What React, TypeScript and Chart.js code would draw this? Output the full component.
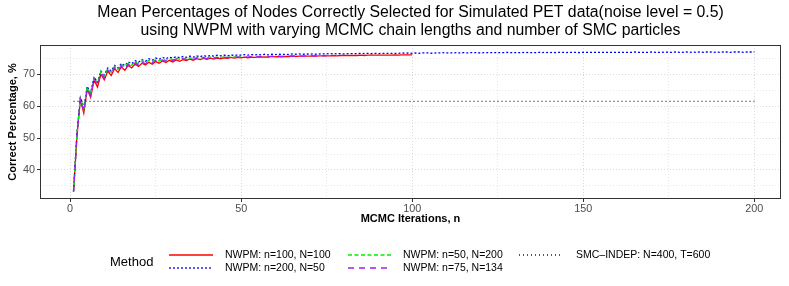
import React, { useEffect, useRef } from "react";
import { Chart, registerables } from "chart.js";

Chart.register(...registerables);

const titleLines = [
  "Mean Percentages of Nodes Correctly Selected for Simulated PET data(noise level = 0.5)",
  "using NWPM with varying MCMC chain lengths and number of SMC particles",
];
const xAxisTitle = "MCMC Iterations, n";
const yAxisTitle = "Correct Percentage, %";
const legendTitle = "Method";

const xTickValues = [0, 25, 50, 75, 100, 125, 150, 175, 200];
const xTickLabelsShown = [0, 50, 100, 150, 200];
const yTickValues = [35, 40, 45, 50, 55, 60, 65, 70, 75];
const yTickLabelsShown = [40, 50, 60, 70];

const seriesNames = [
  "NWPM: n=100, N=100",
  "NWPM: n=200, N=50",
  "NWPM: n=50, N=200",
  "NWPM: n=75, N=134",
  "SMC\u2013INDEP: N=400, T=600",
];

// NWPM n=100, N=100 (iterations 1..100)
const redValues = [
  33.2, 50.5, 62.0, 57.8, 65.3, 62.8, 68.2, 66.0, 70.0, 68.3,
  71.0, 69.6, 71.8, 70.6, 72.3, 71.3, 72.8, 72.0, 73.2, 72.5,
  73.5, 72.9, 73.8, 73.2, 74.0, 73.5, 74.2, 73.7, 74.4, 73.9,
  74.5, 74.1, 74.6, 74.3, 74.8, 74.4, 74.9, 74.6, 75.0, 74.7,
  75.1, 74.8, 75.1, 74.9, 75.2, 75.0, 75.3, 75.1, 75.3, 75.2,
  75.4, 75.2, 75.4, 75.3, 75.5, 75.4, 75.5, 75.4, 75.6, 75.5,
  75.6, 75.5, 75.6, 75.6, 75.7, 75.6, 75.7, 75.7, 75.7, 75.7,
  75.8, 75.7, 75.8, 75.8, 75.8, 75.8, 75.9, 75.8, 75.9, 75.9,
  75.9, 75.9, 75.9, 75.9, 76.0, 75.9, 76.0, 76.0, 76.0, 76.0,
  76.0, 76.0, 76.0, 76.0, 76.1, 76.0, 76.1, 76.1, 76.1, 76.1,
];

// NWPM n=200, N=50 (iterations 1..200)
const blueValues = [
  33.4, 51.5, 62.8, 59.5, 66.2, 64.2, 69.2, 67.5, 71.0, 69.8,
  72.0, 71.0, 72.8, 72.0, 73.4, 72.7, 73.9, 73.3, 74.3, 73.8,
  74.6, 74.1, 74.9, 74.4, 75.1, 74.7, 75.3, 74.9, 75.4, 75.1,
  75.5, 75.2, 75.6, 75.3, 75.7, 75.4, 75.8, 75.5, 75.9, 75.6,
  75.9, 75.7, 76.0, 75.8, 76.0, 75.8, 76.1, 75.9, 76.1, 76.0,
  76.2, 76.0, 76.2, 76.1, 76.2, 76.1, 76.3, 76.1, 76.3, 76.2,
  76.3, 76.2, 76.3, 76.2, 76.4, 76.3, 76.4, 76.3, 76.4, 76.3,
  76.4, 76.3, 76.4, 76.4, 76.5, 76.4, 76.5, 76.4, 76.5, 76.4,
  76.5, 76.5, 76.5, 76.5, 76.6, 76.5, 76.6, 76.5, 76.6, 76.5,
  76.6, 76.6, 76.6, 76.6, 76.6, 76.6, 76.7, 76.6, 76.7, 76.6,
  76.7, 76.6, 76.7, 76.7, 76.7, 76.6, 76.7, 76.7, 76.8, 76.7,
  76.7, 76.7, 76.8, 76.7, 76.8, 76.7, 76.8, 76.8, 76.8, 76.7,
  76.8, 76.8, 76.8, 76.8, 76.8, 76.8, 76.8, 76.9, 76.8, 76.8,
  76.8, 76.8, 76.9, 76.8, 76.8, 76.8, 76.9, 76.8, 76.9, 76.8,
  76.9, 76.8, 76.9, 76.9, 76.8, 76.9, 76.9, 76.9, 76.8, 76.9,
  76.9, 76.9, 76.9, 76.9, 76.9, 76.9, 76.9, 76.9, 76.9, 76.9,
  76.9, 76.9, 76.9, 76.9, 77.0, 76.9, 76.9, 76.9, 76.9, 77.0,
  76.9, 76.9, 76.9, 77.0, 76.9, 76.9, 77.0, 76.9, 76.9, 77.0,
  76.9, 77.0, 76.9, 77.0, 76.9, 77.0, 77.0, 76.9, 77.0, 76.9,
  77.0, 77.0, 76.9, 77.0, 77.0, 77.0, 76.9, 77.0, 77.0, 77.0,
];

// NWPM n=50, N=200 (iterations 1..50)
const greenValues = [
  33.3, 51.0, 62.6, 59.0, 66.0, 63.8, 69.0, 67.2, 70.9, 69.4,
  71.8, 70.6, 72.5, 71.6, 73.1, 72.3, 73.5, 72.8, 73.9, 73.3,
  74.2, 73.7, 74.4, 74.0, 74.6, 74.2, 74.8, 74.4, 74.9, 74.6,
  75.0, 74.7, 75.1, 74.8, 75.2, 74.9, 75.3, 75.0, 75.3, 75.1,
  75.4, 75.2, 75.4, 75.3, 75.5, 75.3, 75.5, 75.4, 75.6, 75.5,
];

// NWPM n=75, N=134 (iterations 1..75)
const purpleValues = [
  33.2, 50.8, 62.3, 58.4, 65.6, 63.3, 68.6, 66.6, 70.5, 68.9,
  71.4, 70.1, 72.2, 71.1, 72.7, 71.8, 73.2, 72.4, 73.6, 72.9,
  73.9, 73.3, 74.1, 73.6, 74.3, 73.9, 74.5, 74.1, 74.7, 74.3,
  74.8, 74.5, 74.9, 74.6, 75.0, 74.7, 75.1, 74.8, 75.2, 74.9,
  75.2, 75.0, 75.3, 75.1, 75.4, 75.2, 75.4, 75.3, 75.5, 75.3,
  75.5, 75.4, 75.6, 75.4, 75.6, 75.5, 75.6, 75.5, 75.7, 75.6,
  75.7, 75.6, 75.7, 75.7, 75.8, 75.7, 75.8, 75.7, 75.8, 75.8,
  75.8, 75.8, 75.9, 75.8, 75.9,
];

// SMC-INDEP N=400, T=600 (constant over iterations 1..200)
const smcIterations = [1, 200];
const smcValues = [61.5, 61.5];

const FONT = "'Liberation Sans', Arial, Helvetica, sans-serif";

const toPoints = (vals: number[], iters?: number[]) =>
  vals.map((v, i) => ({ x: iters ? iters[i] : i + 1, y: v }));

const styles = [
  { color: "#FF0000", dash: [] as number[] },
  { color: "#0000FF", dash: [2, 2] },
  { color: "#00EE00", dash: [4, 2.5] },
  { color: "#A020F0", dash: [6, 5] },
  { color: "#222222", dash: [1, 3] },
];

export default function App() {
  const ref = useRef<HTMLCanvasElement | null>(null);

  useEffect(() => {
    document.body.style.margin = "0";
    const canvas = ref.current;
    if (!canvas) return;

    const overlay = {
      id: "overlay",
      beforeDraw(chart: any) {
        const ctx = chart.ctx;
        ctx.save();
        ctx.fillStyle = "#FFFFFF";
        ctx.fillRect(0, 0, chart.width, chart.height);
        ctx.restore();
      },
      afterDatasetsDraw(chart: any) {
        const ctx = chart.ctx;
        const a = chart.chartArea;
        ctx.save();
        // panel border
        ctx.strokeStyle = "#333333";
        ctx.lineWidth = 1;
        ctx.setLineDash([]);
        ctx.strokeRect(a.left + 0.5, a.top + 0.5, a.right - a.left - 1, a.bottom - a.top - 1);

        const cx = (a.left + a.right) / 2;
        // title
        ctx.fillStyle = "#000000";
        ctx.textAlign = "center";
        ctx.textBaseline = "middle";
        ctx.font = `15.8px ${FONT}`;
        ctx.fillText(titleLines[0], cx, 13);
        ctx.fillText(titleLines[1], cx, 31);

        // axis titles
        ctx.font = `bold 11px ${FONT}`;
        ctx.fillText(xAxisTitle, cx, 219);
        ctx.save();
        ctx.translate(13, (a.top + a.bottom) / 2);
        ctx.rotate(-Math.PI / 2);
        ctx.fillText(yAxisTitle, 0, 0);
        ctx.restore();

        // legend
        ctx.textAlign = "left";
        ctx.font = `13px ${FONT}`;
        ctx.fillText(legendTitle, 110, 262);
        const cols = [
          { lx: 169, lw: 44, tx: 225 },
          { lx: 348, lw: 44, tx: 403 },
          { lx: 519, lw: 41, tx: 576 },
        ];
        const rows = [255, 268];
        ctx.font = `10.5px ${FONT}`;
        seriesNames.forEach((name, i) => {
          const col = cols[Math.floor(i / 2)];
          const y = rows[i % 2];
          ctx.strokeStyle = styles[i].color;
          ctx.lineWidth = 1.3;
          ctx.setLineDash(styles[i].dash);
          ctx.beginPath();
          ctx.moveTo(col.lx, y);
          ctx.lineTo(col.lx + col.lw, y);
          ctx.stroke();
          ctx.setLineDash([]);
          ctx.fillStyle = "#000000";
          ctx.fillText(name, col.tx, y);
        });
        ctx.restore();
      },
    };

    const allValues = [redValues, blueValues, greenValues, purpleValues];
    const datasets: any[] = allValues.map((vals, i) => ({
      label: seriesNames[i],
      data: toPoints(vals),
      borderColor: styles[i].color,
      borderDash: styles[i].dash,
      borderWidth: 1.3,
      pointRadius: 0,
      fill: false,
      tension: 0,
      order: 5 - i,
    }));
    datasets.push({
      label: seriesNames[4],
      data: toPoints(smcValues, smcIterations),
      borderColor: styles[4].color,
      borderDash: styles[4].dash,
      borderWidth: 1.2,
      pointRadius: 0,
      fill: false,
      order: 1,
    });

    const gridColor = (ctx: any, majors: number[]) =>
      majors.includes(ctx.tick?.value) ? "#D9D9D9" : "#E6E6E6";

    const chart = new Chart(canvas, {
      type: "line",
      data: { datasets },
      plugins: [overlay],
      options: {
        animation: false,
        responsive: false,
        devicePixelRatio: 1,
        layout: { padding: { left: 0, right: 8, top: 45, bottom: 0 } },
        plugins: { legend: { display: false }, title: { display: false }, tooltip: { enabled: false } },
        scales: {
          x: {
            type: "linear",
            min: -8.8,
            max: 207.8,
            afterFit: (s: any) => { s.height = 87; },
            afterBuildTicks: (s: any) => { s.ticks = xTickValues.map((v) => ({ value: v })); },
            ticks: {
              autoSkip: false,
              maxRotation: 0,
              padding: 1,
              color: "#4D4D4D",
              font: { family: FONT, size: 10.8 },
              callback: (v: any) => (xTickLabelsShown.includes(v) ? String(v) : ""),
            },
            grid: {
              color: (c: any) => gridColor(c, [0, 50, 100, 150, 200]),
              lineWidth: 1,
              tickLength: 3,
              tickColor: (c: any) => (xTickLabelsShown.includes(c.tick?.value) ? "#333333" : "rgba(0,0,0,0)"),
              tickBorderDash: [],
            },
            border: { display: false, dash: [1, 2] },
          },
          y: {
            type: "linear",
            min: 30.9,
            max: 79.2,
            afterFit: (s: any) => { s.width = 40; },
            afterBuildTicks: (s: any) => { s.ticks = yTickValues.map((v) => ({ value: v })); },
            ticks: {
              autoSkip: false,
              padding: 2,
              color: "#4D4D4D",
              font: { family: FONT, size: 10.8 },
              callback: (v: any) => (yTickLabelsShown.includes(v) ? String(v) : ""),
            },
            grid: {
              color: (c: any) => gridColor(c, [40, 50, 60, 70]),
              lineWidth: 1,
              tickLength: 3,
              tickColor: (c: any) => (yTickLabelsShown.includes(c.tick?.value) ? "#333333" : "rgba(0,0,0,0)"),
              tickBorderDash: [],
            },
            border: { display: false, dash: [1, 2] },
          },
        },
      },
    });
    return () => chart.destroy();
  }, []);

  return (
    <div style={{ width: 789, height: 286 }}>
      <canvas ref={ref} width={789} height={286} style={{ display: "block", width: 789, height: 286 }} />
    </div>
  );
}
